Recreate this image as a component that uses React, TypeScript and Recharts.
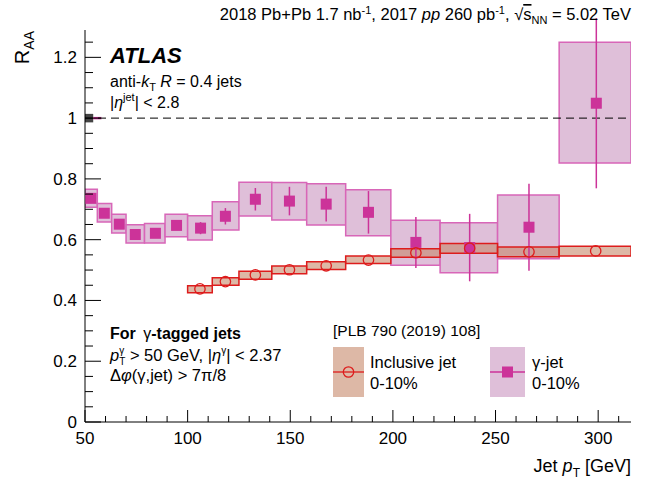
import React from 'react'
import {
  ComposedChart, XAxis, YAxis, Scatter, ErrorBar,
  ReferenceArea, ReferenceLine,
} from 'recharts'

// gamma-tagged jets, 0-10%
const gammaEdges = [50, 56, 63, 70, 79, 89, 100, 112, 125, 141, 158, 177, 199, 223, 251, 281, 316]
const gammaX = [52.9, 59.4, 66.7, 74.5, 84.3, 94.6, 106.3, 118.4, 133.0, 149.6, 167.5, 188.1, 211.2, 237.4, 266.3, 299.1]
const gammaRaa = [0.736, 0.687, 0.651, 0.617, 0.621, 0.647, 0.638, 0.677, 0.733, 0.727, 0.717, 0.690, 0.591, 0.574, 0.641, 1.049]
const gammaStat = [0.008, 0.009, 0.010, 0.010, 0.012, 0.015, 0.020, 0.027, 0.037, 0.047, 0.057, 0.070, 0.084, 0.111, 0.143, 0.280]
const gammaSystLo = [0.707, 0.658, 0.622, 0.589, 0.589, 0.610, 0.599, 0.632, 0.678, 0.665, 0.648, 0.613, 0.516, 0.491, 0.537, 0.852]
const gammaSystHi = [0.766, 0.719, 0.684, 0.649, 0.653, 0.684, 0.679, 0.725, 0.789, 0.788, 0.784, 0.764, 0.664, 0.656, 0.747, 1.250]

// inclusive jets, 0-10% [PLB 790 (2019) 108]
const inclEdges = [100, 112, 125, 141, 158, 177, 199, 223, 251, 281, 316]
const inclX = [106.0, 118.4, 133.0, 149.6, 167.5, 188.1, 211.2, 237.4, 266.3, 298.8]
const inclRaa = [0.438, 0.462, 0.484, 0.501, 0.514, 0.533, 0.557, 0.572, 0.560, 0.563]
const inclSystLo = [0.425, 0.450, 0.470, 0.488, 0.502, 0.522, 0.542, 0.555, 0.544, 0.546]
const inclSystHi = [0.448, 0.475, 0.496, 0.513, 0.527, 0.546, 0.570, 0.587, 0.576, 0.578]

// normalisation uncertainties drawn at unity
const normEdges = [[50, 54], [54, 58]]
const normUnc = [0.014, 0.004]

const xTicks = [50, 60, 70, 80, 90, 100, 110, 120, 130, 140, 150, 160, 170, 180, 190, 200,
  210, 220, 230, 240, 250, 260, 270, 280, 290, 300, 310]
const yTicks = [0, 0.05, 0.1, 0.15, 0.2, 0.25, 0.3, 0.35, 0.4, 0.45, 0.5, 0.55, 0.6, 0.65,
  0.7, 0.75, 0.8, 0.85, 0.9, 0.95, 1, 1.05, 1.1, 1.15, 1.2, 1.25]

const gammaData = gammaX.map((x, i) => ({ x, y: gammaRaa[i], err: gammaStat[i] }))
const inclData = inclX.map((x, i) => ({ x, y: inclRaa[i] }))

const FONT = '"Liberation Sans", Arial, Helvetica, sans-serif'
const MAGENTA = '#cc3399'
const RED = '#dd1c1c'

const isMajorX = (v: number) => v % 50 === 0
const isMajorY = (v: number) => Math.abs(v * 5 - Math.round(v * 5)) < 1e-6

const BottomTick = (p: any) => {
  const v = p.payload.value
  const major = isMajorX(v)
  return (
    <g>
      <line x1={p.x} x2={p.x} y1={p.y} y2={p.y - (major ? 12 : 6)} stroke="#000" />
      {major && (
        <text x={p.x} y={p.y + 22} textAnchor="middle" fontSize={17} fontFamily={FONT} fill="#000">{v}</text>
      )}
    </g>
  )
}

const TopTick = (p: any) => {
  const major = isMajorX(p.payload.value)
  return <line x1={p.x} x2={p.x} y1={p.y} y2={p.y + (major ? 12 : 6)} stroke="#000" />
}

const LeftTick = (p: any) => {
  const v = p.payload.value
  const major = isMajorY(v)
  return (
    <g>
      <line x1={p.x} x2={p.x + (major ? 16 : 8)} y1={p.y} y2={p.y} stroke="#000" />
      {major && (
        <text x={p.x - 8} y={p.y + 6} textAnchor="end" fontSize={17} fontFamily={FONT} fill="#000">
          {String(Math.round(v * 10) / 10)}
        </text>
      )}
    </g>
  )
}

const RightTick = (p: any) => {
  const major = isMajorY(p.payload.value)
  return <line x1={p.x} x2={p.x - (major ? 16 : 8)} y1={p.y} y2={p.y} stroke="#000" />
}

const Square = (p: any) => <rect x={p.cx - 5.5} y={p.cy - 5.5} width={11} height={11} fill={MAGENTA} />
const OpenCircle = (p: any) => <circle cx={p.cx} cy={p.cy} r={5.2} fill="none" stroke={RED} strokeWidth={1.3} />

function Labels() {
  return (
    <svg width={652} height={482} style={{ position: 'absolute', left: 0, top: 0, pointerEvents: 'none' }}
      fontFamily={FONT} fill="#000">
      <text x={631} y={20} textAnchor="end" fontSize={16.5}>
        2018 Pb+Pb 1.7 nb<tspan dy={-6} fontSize={11}>-1</tspan>
        <tspan dy={6}>, 2017 </tspan><tspan fontStyle="italic">pp</tspan> 260 pb
        <tspan dy={-6} fontSize={11}>-1</tspan>
        <tspan dy={6}>, √</tspan><tspan textDecoration="overline">s</tspan>
        <tspan dy={4} fontSize={11}>NN</tspan><tspan dy={-4}> = 5.02 TeV</tspan>
      </text>

      <text x={110} y={63} fontSize={22} fontWeight="bold" fontStyle="italic">ATLAS</text>
      <text x={110} y={87} fontSize={16}>
        anti-<tspan fontStyle="italic">k</tspan><tspan dy={4} fontSize={11}>T</tspan>
        <tspan dy={-4} fontStyle="italic"> R</tspan> = 0.4 jets
      </text>
      <text x={110} y={108} fontSize={16}>
        |<tspan fontStyle="italic">η</tspan><tspan dy={-7} fontSize={11}>jet</tspan><tspan dy={7}>| &lt; 2.8</tspan>
      </text>

      <text x={110} y={339} fontSize={16} fontWeight="bold">
        For <tspan dx={3} fontWeight="normal">γ</tspan>-tagged jets
      </text>
      <text x={110} y={361} fontSize={16.5}>
        <tspan fontStyle="italic">p</tspan><tspan dy={-7} fontSize={10}>γ</tspan>
        <tspan dx={-5} dy={11} fontSize={10}>T</tspan>
        <tspan dy={-4}> &gt; 50 GeV, |</tspan><tspan fontStyle="italic">η</tspan>
        <tspan dy={-7} fontSize={10}>γ</tspan><tspan dy={7}>| &lt; 2.37</tspan>
      </text>
      <text x={110} y={381} fontSize={16.5}>
        Δ<tspan fontStyle="italic">φ</tspan>(γ,jet) &gt; 7π/8
      </text>

      <text x={333} y={336} fontSize={15.5}>[PLB 790 (2019) 108]</text>
      <rect x={333} y={347} width={31} height={50} fill="#ddb8a6" />
      <line x1={333} x2={364} y1={372} y2={372} stroke={RED} strokeWidth={1.3} />
      <circle cx={348.5} cy={372} r={5.2} fill="none" stroke={RED} strokeWidth={1.3} />
      <text x={370} y={368} fontSize={16.5}>Inclusive jet</text>
      <text x={370} y={389} fontSize={16.5}>0-10%</text>

      <rect x={490} y={347} width={35} height={50} fill="#dfbfd9" />
      <line x1={490} x2={525} y1={372} y2={372} stroke={MAGENTA} strokeWidth={1.3} />
      <rect x={502} y={366.5} width={11} height={11} fill={MAGENTA} />
      <text x={532} y={368} fontSize={16.5}>γ-jet</text>
      <text x={532} y={389} fontSize={16.5}>0-10%</text>

      <text transform="rotate(-90)" x={-31} y={29} textAnchor="end" fontSize={20}>
        R<tspan dy={5} fontSize={14}>AA</tspan>
      </text>
      <text x={631} y={472} textAnchor="end" fontSize={18}>
        Jet <tspan fontStyle="italic">p</tspan><tspan dy={5} fontSize={12}>T</tspan><tspan dy={-5}> [GeV]</tspan>
      </text>
    </svg>
  )
}

export default function App() {
  return (
    <div style={{ position: 'absolute', left: 0, top: 0, width: 652, height: 482, background: '#fff' }}>
      <ComposedChart width={652} height={482} margin={{ top: 30, right: 21, bottom: 0, left: 0 }}>
        <XAxis xAxisId="b" type="number" dataKey="x" domain={[50, 316]} ticks={xTicks} interval={0}
          allowDataOverflow height={60} tickSize={0} tickMargin={0} tickLine={false}
          axisLine={{ stroke: '#000' }} tick={BottomTick} />
        <XAxis xAxisId="t" orientation="top" type="number" domain={[50, 316]} ticks={xTicks} interval={0}
          allowDataOverflow height={0} tickSize={0} tickMargin={0} tickLine={false}
          axisLine={{ stroke: '#000' }} tick={TopTick} />
        <YAxis yAxisId="l" type="number" dataKey="y" domain={[0, 1.29]} ticks={yTicks} interval={0}
          allowDataOverflow width={85} tickSize={0} tickMargin={0} tickLine={false}
          axisLine={{ stroke: '#000' }} tick={LeftTick} />
        <YAxis yAxisId="r" orientation="right" type="number" domain={[0, 1.29]} ticks={yTicks} interval={0}
          allowDataOverflow width={0} tickSize={0} tickMargin={0} tickLine={false}
          axisLine={{ stroke: '#000' }} tick={RightTick} />

        {gammaX.map((_, i) => (
          <ReferenceArea key={'g' + i} xAxisId="b" yAxisId="l"
            x1={gammaEdges[i]} x2={gammaEdges[i + 1]} y1={gammaSystLo[i]} y2={gammaSystHi[i]}
            fill="#dfbfd9" fillOpacity={1} stroke="#d866b8" strokeWidth={1.5} ifOverflow="hidden" />
        ))}
        {inclX.map((_, i) => (
          <ReferenceArea key={'i' + i} xAxisId="b" yAxisId="l"
            x1={inclEdges[i]} x2={inclEdges[i + 1]} y1={inclSystLo[i]} y2={inclSystHi[i]}
            fill="#c6896b" fillOpacity={0.6} stroke={RED} strokeWidth={1.5} ifOverflow="hidden" />
        ))}
        {normEdges.map((e, i) => (
          <ReferenceArea key={'n' + i} xAxisId="b" yAxisId="l"
            x1={e[0]} x2={e[1]} y1={1 - normUnc[i]} y2={1 + normUnc[i]}
            fill={i === 0 ? '#444' : MAGENTA} fillOpacity={1} stroke="none" ifOverflow="hidden" />
        ))}
        <ReferenceLine xAxisId="b" yAxisId="l" y={1} stroke="#000" strokeDasharray="8 5" />

        <Scatter xAxisId="b" yAxisId="l" data={gammaData} dataKey="y" shape={Square} isAnimationActive={false}>
          <ErrorBar dataKey="err" direction="y" width={0} stroke={MAGENTA} strokeWidth={1.5} isAnimationActive={false} />
        </Scatter>
        <Scatter xAxisId="b" yAxisId="l" data={inclData} dataKey="y" shape={OpenCircle} isAnimationActive={false} />
      </ComposedChart>
      <Labels />
    </div>
  )
}
